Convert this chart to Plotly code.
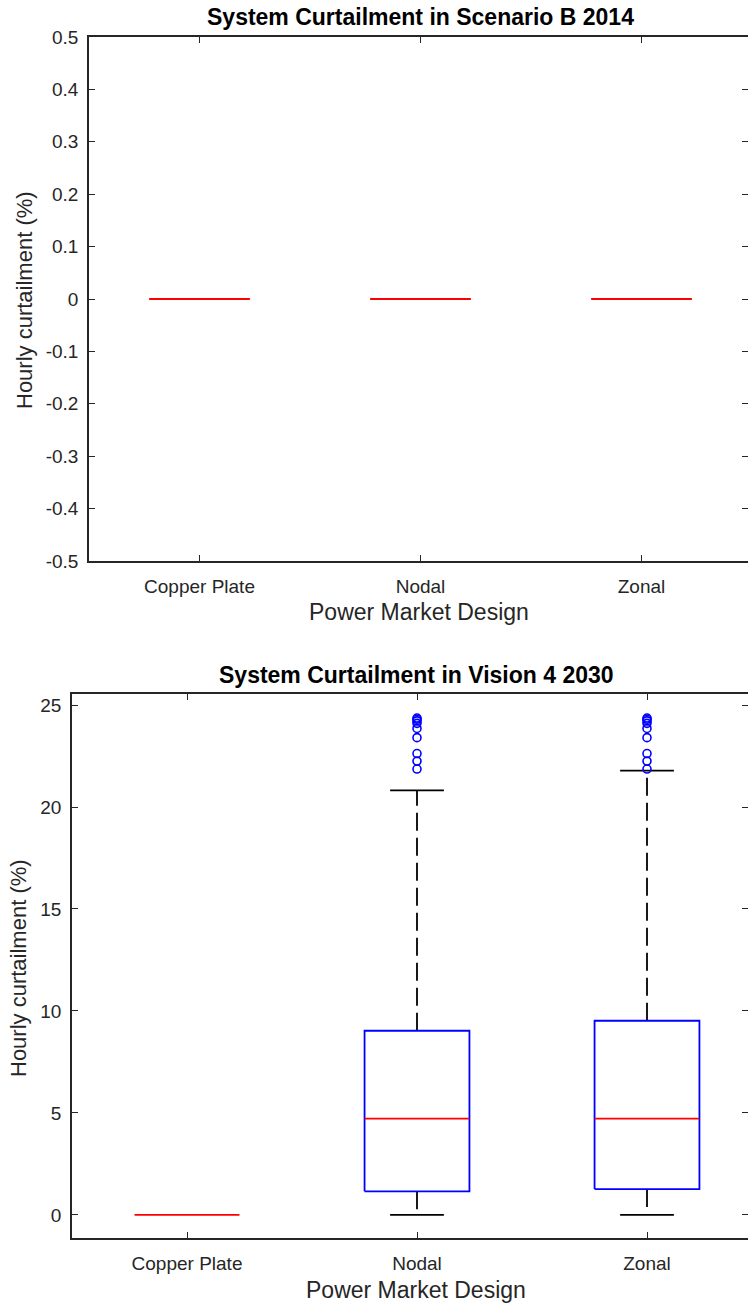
import plotly.graph_objects as go

W, H = 748, 1305

categories = ["Copper Plate", "Nodal", "Zonal"]
cat_pos = [1, 2, 3]

# Scenario B 2014 (all zero)
b2014_q1 = [0.0, 0.0, 0.0]
b2014_median = [0.0, 0.0, 0.0]
b2014_q3 = [0.0, 0.0, 0.0]
b2014_lower = [0.0, 0.0, 0.0]
b2014_upper = [0.0, 0.0, 0.0]
b2014_outliers = [[], [], []]

# Vision 4 2030
v2030_q1 = [0.0, 1.16, 1.27]
v2030_median = [0.0, 4.72, 4.72]
v2030_q3 = [0.0, 9.03, 9.52]
v2030_lower = [0.0, 0.0, 0.0]
v2030_upper = [0.0, 20.82, 21.78]
v2030_outliers = [
    [],
    [24.36, 24.3, 24.22, 24.1, 23.85, 23.4, 22.62, 22.25, 21.86],
    [24.36, 24.3, 24.22, 24.1, 23.85, 23.4, 22.62, 22.25, 21.86],
]

titles = ["System Curtailment in Scenario B 2014", "System Curtailment in Vision 4 2030"]
x_title = "Power Market Design"
y_title = "Hourly curtailment (%)"
top_yticks = [-0.5, -0.4, -0.3, -0.2, -0.1, 0, 0.1, 0.2, 0.3, 0.4, 0.5]
top_yticklabels = ["-0.5", "-0.4", "-0.3", "-0.2", "-0.1", "0", "0.1", "0.2", "0.3", "0.4", "0.5"]
bot_yticks = [0, 5, 10, 15, 20, 25]

FONT = "Liberation Sans, Arial, sans-serif"
TXT = "#262626"
BLUE = "#0000ff"
RED = "#ff0000"
BLACK = "#000000"
HALF = 0.228
CAP = 0.117
LW = 1.8

fig = go.Figure()

def add_boxes(xa, ya, q1s, meds, q3s, lows, ups, outs):
    for c, q1, md, q3, lo, up, ol in zip(cat_pos, q1s, meds, q3s, lows, ups, outs):
        if up > q3:
            fig.add_trace(go.Scatter(x=[c, c], y=[q3, up], mode="lines", xaxis=xa, yaxis=ya,
                                     line=dict(color=BLACK, width=LW, dash="18px,7px"),
                                     showlegend=False, hoverinfo="skip"))
            fig.add_trace(go.Scatter(x=[c - CAP, c + CAP], y=[up, up], mode="lines", xaxis=xa, yaxis=ya,
                                     line=dict(color=BLACK, width=LW),
                                     showlegend=False, hoverinfo="skip"))
        if lo < q1:
            fig.add_trace(go.Scatter(x=[c, c], y=[q1, lo], mode="lines", xaxis=xa, yaxis=ya,
                                     line=dict(color=BLACK, width=LW, dash="18px,7px"),
                                     showlegend=False, hoverinfo="skip"))
            fig.add_trace(go.Scatter(x=[c - CAP, c + CAP], y=[lo, lo], mode="lines", xaxis=xa, yaxis=ya,
                                     line=dict(color=BLACK, width=LW),
                                     showlegend=False, hoverinfo="skip"))
        if q3 > q1:
            fig.add_trace(go.Scatter(x=[c - HALF, c + HALF, c + HALF, c - HALF, c - HALF],
                                     y=[q1, q1, q3, q3, q1], mode="lines", xaxis=xa, yaxis=ya,
                                     line=dict(color=BLUE, width=LW),
                                     showlegend=False, hoverinfo="skip"))
        fig.add_trace(go.Scatter(x=[c - HALF, c + HALF], y=[md, md], mode="lines", xaxis=xa, yaxis=ya,
                                 line=dict(color=RED, width=LW),
                                 showlegend=False, hoverinfo="skip"))
        if ol:
            fig.add_trace(go.Scatter(x=[c] * len(ol), y=ol, mode="markers", xaxis=xa, yaxis=ya,
                                     marker=dict(symbol="circle-open", color=BLUE, size=8,
                                                 line=dict(width=1.6, color=BLUE)),
                                     showlegend=False, hoverinfo="skip"))

add_boxes("x", "y", b2014_q1, b2014_median, b2014_q3, b2014_lower, b2014_upper, b2014_outliers)
add_boxes("x2", "y2", v2030_q1, v2030_median, v2030_q3, v2030_lower, v2030_upper, v2030_outliers)

def fx(px):
    return px / W

def fy(py):
    return 1 - py / H

# plot areas in pixels
top_l, top_t, top_b = 89, 37, 561
bot_l, bot_t, bot_b = 72, 694, 1238
top_sp = 221.0
bot_sp = 230.0

axis_common = dict(showline=True, linecolor=TXT, linewidth=1.6, ticks="inside", ticklen=6,
                   tickcolor=TXT, tickwidth=1.4, showgrid=False, zeroline=False, automargin=False,
                   tickfont=dict(family=FONT, size=19, color=TXT))
right_common = dict(showticklabels=False, showline=False, ticks="inside", ticklen=6, tickcolor=TXT,
                    tickwidth=1.4, showgrid=False, zeroline=False, automargin=False)

fig.update_layout(
    width=W, height=H, margin=dict(l=0, r=0, t=0, b=0, autoexpand=False),
    paper_bgcolor="white", plot_bgcolor="white", showlegend=False,
    xaxis=dict(domain=[fx(top_l), 1], range=[0.5, 0.5 + (W - top_l) / top_sp],
               tickvals=cat_pos, ticktext=categories, mirror="ticks", anchor="y",
               ticklabelstandoff=7, **axis_common),
    yaxis=dict(domain=[fy(top_b), fy(top_t)], range=[-0.5, 0.5], tickvals=top_yticks,
               ticktext=top_yticklabels, anchor="x", ticklabelstandoff=5, **axis_common),
    xaxis2=dict(domain=[fx(bot_l), 1], range=[0.5, 0.5 + (W - bot_l) / bot_sp],
                tickvals=cat_pos, ticktext=categories, mirror="ticks", anchor="y2",
                ticklabelstandoff=7, **axis_common),
    yaxis2=dict(domain=[fy(bot_b), fy(bot_t)], range=[-1.13, 25.54], tickvals=bot_yticks,
                anchor="x2", ticklabelstandoff=5, **axis_common),
    yaxis3=dict(overlaying="y", side="right", anchor="x", range=[-0.5, 0.5], tickvals=top_yticks,
                **right_common),
    yaxis4=dict(overlaying="y2", side="right", anchor="x2", range=[-1.13, 25.54], tickvals=bot_yticks,
                **right_common),
)

fig.add_trace(go.Scatter(x=[None], y=[None], xaxis="x", yaxis="y3", showlegend=False, hoverinfo="skip"))
fig.add_trace(go.Scatter(x=[None], y=[None], xaxis="x2", yaxis="y4", showlegend=False, hoverinfo="skip"))

ann = []
ann.append(dict(text="<b>" + titles[0] + "</b>", x=fx(420), y=fy(17), xref="paper", yref="paper",
                showarrow=False, font=dict(family=FONT, size=23, color=BLACK), xanchor="center", yanchor="middle"))
ann.append(dict(text="<b>" + titles[1] + "</b>", x=fx(416), y=fy(675), xref="paper", yref="paper",
                showarrow=False, font=dict(family=FONT, size=23, color=BLACK), xanchor="center", yanchor="middle"))
ann.append(dict(text=x_title, x=fx(419), y=fy(612), xref="paper", yref="paper", showarrow=False,
                font=dict(family=FONT, size=23, color=TXT), xanchor="center", yanchor="middle"))
ann.append(dict(text=x_title, x=fx(416), y=fy(1290), xref="paper", yref="paper", showarrow=False,
                font=dict(family=FONT, size=23, color=TXT), xanchor="center", yanchor="middle"))
ann.append(dict(text=y_title, x=fx(25), y=fy(300), xref="paper", yref="paper", showarrow=False, textangle=-90,
                font=dict(family=FONT, size=22, color=TXT), xanchor="center", yanchor="middle"))
ann.append(dict(text=y_title, x=fx(19), y=fy(968), xref="paper", yref="paper", showarrow=False, textangle=-90,
                font=dict(family=FONT, size=22, color=TXT), xanchor="center", yanchor="middle"))
fig.update_layout(annotations=ann)

fig.write_html("out.html", config={"displayModeBar": False},
               post_script="document.body.style.margin='0';")
